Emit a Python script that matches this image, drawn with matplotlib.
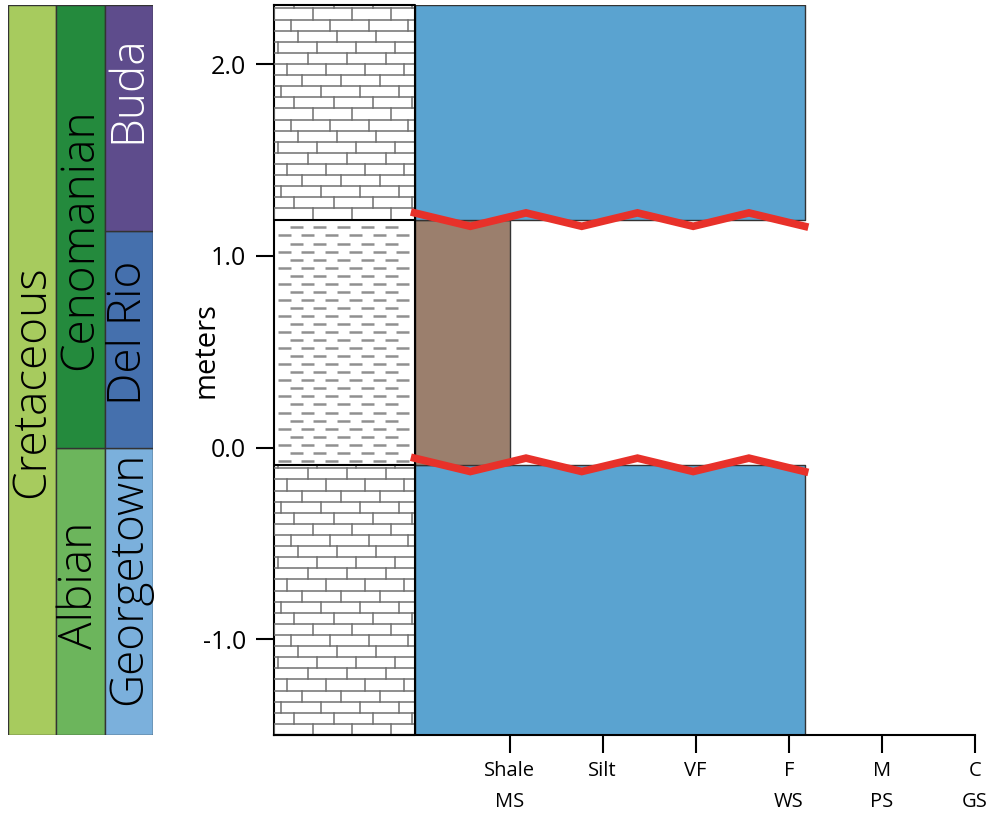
import matplotlib.pyplot as plt
import numpy as np

plt.rcParams['font.family'] = ['Open Sans', 'DejaVu Sans']

# --- data ---
# lithologic units (bottom, top in meters), grain size (0=column edge, 1=Shale ... 6=C)
unit_names = ['Georgetown', 'Del Rio', 'Buda']
unit_bottom = [-1.50, -0.09, 1.19]
unit_top = [-0.09, 1.19, 2.31]
unit_litho = ['limestone', 'shale', 'limestone']
unit_grain = [4.17, 1.0, 4.17]
unit_color = ['#5aa3d0', '#9b7f6d', '#5aa3d0']
unconformities = [-0.09, 1.19]

grain_ticks = [1, 2, 3, 4, 5, 6]
grain_labels = ['Shale\nMS', 'Silt', 'VF', 'F\nWS', 'M\nPS', 'C\nGS']

# chronostratigraphy columns
period_names = ['Cretaceous']
period_bounds = [(-1.50, 2.31)]
period_colors = ['#a7cb5e']
stage_names = ['Albian', 'Cenomanian']
stage_bounds = [(-1.50, 0.0), (0.0, 2.31)]
stage_colors = ['#6cb55c', '#248a3d']
form_names = ['Georgetown', 'Del Rio', 'Buda']
form_bounds = [(-1.50, 0.0), (0.0, 1.13), (1.13, 2.31)]
form_colors = ['#7bb0dc', '#4570ad', '#5e4c8c']
form_text = ['black', 'black', 'white']

ymin, ymax = -1.50, 2.31
col_left = -1.53
col_right = -0.02

fig = plt.figure(figsize=(9.92, 8.17), dpi=100)
ax = fig.add_axes([274 / 992, 1 - 735 / 817, 701 / 992, 730 / 817])
ax.set_xlim(col_left, 6.0)
ax.set_ylim(ymin, ymax)

# grain-size bars
for b, t, g, c in zip(unit_bottom, unit_top, unit_grain, unit_color):
    ax.fill_between([col_right, g], b, t, color=c, ec='#333333', lw=1, zorder=2)


def brick(ax, b, t):
    rh = 0.058
    bw = 0.42
    offs = [0.0, 0.22, 0.08, 0.3, 0.14, 0.36, 0.04, 0.26, 0.18]
    y = b
    i = 0
    while y < t - 1e-6:
        y2 = min(y + rh, t)
        ax.plot([col_left, col_right], [y2, y2], color='#707070', lw=1.1, zorder=3)
        x = col_left + offs[i % len(offs)]
        while x < col_right:
            ax.plot([x, x], [y, y2], color='#707070', lw=1.1, zorder=3)
            x += bw
        y = y2
        i += 1


def shale(ax, b, t):
    rs = 0.042
    per = 0.255
    dl = 0.14
    y = b + rs / 2
    i = 0
    while y < t - rs / 3:
        x = col_left + 0.04 + (per / 2 if i % 2 else 0)
        while x + dl < col_right:
            ax.plot([x, x + dl], [y, y], color='#909090', lw=1.8, zorder=3,
                    solid_capstyle='butt')
            x += per
        y += rs
        i += 1


for b, t, lith in zip(unit_bottom, unit_top, unit_litho):
    if lith == 'limestone':
        brick(ax, b, t)
    else:
        shale(ax, b, t)
    ax.plot([col_left, col_right], [b, b], color='black', lw=1.5, zorder=4)
ax.plot([col_left, col_right, col_right, col_left], [ymin, ymin, ymax, ymax],
        color='black', lw=1.5, zorder=4, clip_on=False)

# unconformity zigzags
for u in unconformities:
    xs = np.linspace(col_right, unit_grain[0], 8)
    ys = [u + 0.035 if k % 2 == 0 else u - 0.035 for k in range(8)]
    ax.plot(xs, ys, color='#e8312a', lw=5.5, zorder=5, solid_joinstyle='miter')

for s in ['top', 'right']:
    ax.spines[s].set_visible(False)
for s in ['left', 'bottom']:
    ax.spines[s].set_linewidth(1.5)
ax.set_yticks([-1.0, 0.0, 1.0, 2.0])
ax.set_yticklabels(['-1.0', '0.0', '1.0', '2.0'])
ax.set_xticks(grain_ticks)
ax.set_xticklabels(grain_labels, linespacing=1.7, va='top')
ax.tick_params(axis='y', length=13, width=1.5, pad=7, labelsize=18)
ax.tick_params(axis='x', length=13, width=1.5, pad=6, labelsize=14.5)
fig.text(206 / 992, 1 - 350 / 817, 'meters', rotation=90, ha='center', va='center',
         fontsize=21)

# chronostratigraphy
ax2 = fig.add_axes([8 / 992, 1 - 735 / 817, 145 / 992, 730 / 817])
ax2.set_xlim(0, 3)
ax2.set_ylim(ymin, ymax)
ax2.axis('off')
cols = [(period_names, period_bounds, period_colors, ['black']),
        (stage_names, stage_bounds, stage_colors, ['black', 'black']),
        (form_names, form_bounds, form_colors, form_text)]
text_y = {'Cretaceous': 0.345, 'Albian': -0.72, 'Cenomanian': 1.087,
          'Georgetown': -0.685, 'Del Rio': 0.60, 'Buda': 1.87}
for ci, (names, bounds, colors, tcols) in enumerate(cols):
    for name, (b, t), c, tc in zip(names, bounds, colors, tcols):
        ax2.bar(ci + 0.5, t - b, bottom=b, width=1, color=c, edgecolor='#333333', lw=1)
        ax2.text(ci + 0.5, text_y[name], name, rotation=90, ha='center', va='center',
                 fontsize=33, color=tc, fontweight='light')

fig.savefig('out.png', dpi=100)
